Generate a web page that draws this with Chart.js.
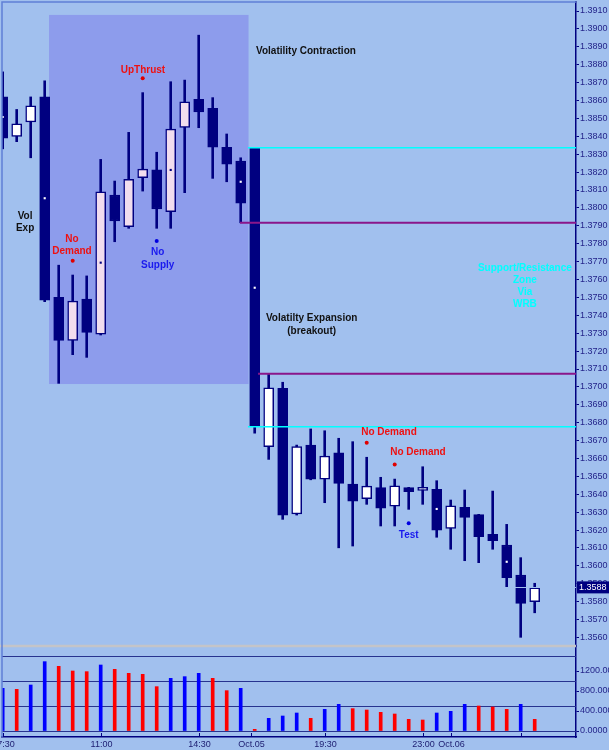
<!DOCTYPE html>
<html>
<head>
<meta charset="utf-8">
<script src="https://cdn.jsdelivr.net/npm/chart.js@4.4.0/dist/chart.umd.min.js"></script>
<style>
  html, body { margin: 0; padding: 0; background: #a1c0ee; }
  #wrap { width: 609px; height: 750px; position: relative; }
</style>
</head>
<body>
<div id="wrap"><canvas id="c"></canvas></div>
<script>
// 30 min bars (index 0 = 07:30)
var candleOpen  = [1.3862, 1.3840, 1.3848, 1.3862, 1.3750, 1.3726, 1.3749, 1.37295, 1.38072, 1.37895,
                   1.38169, 1.38212, 1.37979, 1.3845, 1.38607, 1.38556, 1.38339, 1.38262, 1.38333, 1.36666,
                   1.36992, 1.3629, 1.36675, 1.36484, 1.36632, 1.36457, 1.36375, 1.36437, 1.36333, 1.36437,
                   1.36422, 1.36428, 1.3621, 1.36327, 1.36286, 1.36176, 1.36117, 1.35949, 1.3580];
var candleHigh  = [1.3876, 1.3855, 1.3862, 1.3871, 1.3768, 1.37625, 1.3762, 1.38271, 1.3815, 1.38422,
                   1.38644, 1.38311, 1.38705, 1.38714, 1.38965, 1.38616, 1.38413, 1.3828, 1.38336, 1.3707,
                   1.37026, 1.36675, 1.36765, 1.36755, 1.36713, 1.36694, 1.36607, 1.36495, 1.36485, 1.36439,
                   1.36554, 1.36476, 1.36368, 1.36424, 1.36288, 1.36418, 1.36232, 1.36046, 1.35903];
var candleLow   = [1.3833, 1.3837, 1.3828, 1.37476, 1.3702, 1.3718, 1.37165, 1.3729, 1.37811, 1.37886,
                   1.38094, 1.37886, 1.37886, 1.38085, 1.38448, 1.38165, 1.38146, 1.37917, 1.36741, 1.36595,
                   1.3626, 1.36284, 1.36481, 1.36353, 1.36101, 1.36111, 1.36344, 1.36223, 1.36223, 1.36316,
                   1.36344, 1.3616, 1.36093, 1.36029, 1.36018, 1.36093, 1.35884, 1.35601, 1.35738];
var candleClose = [1.3839, 1.3847, 1.3857, 1.37485, 1.3726, 1.3748, 1.37305, 1.3809, 1.37927, 1.3816,
                   1.38217, 1.37994, 1.38441, 1.38593, 1.38536, 1.38339, 1.38245, 1.38026, 1.36781, 1.36995,
                   1.36284, 1.36666, 1.36485, 1.36614, 1.36461, 1.36362, 1.36446, 1.36323, 1.36448, 1.36414,
                   1.36437, 1.362, 1.36336, 1.36271, 1.36163, 1.36141, 1.35934, 1.35791, 1.35878];

var volume     = [853, 833, 920, 1387, 1293, 1200, 1187, 1320, 1233, 1153,
                  1133, 887, 1053, 1087, 1153, 1053, 807, 853, 33, 253,
                  300, 360, 253, 433, 533, 447, 420, 373, 340, 233,
                  220, 360, 393, 533, 500, 480, 433, 533, 233];
var volumeSide = ['b','r','b','b','r','r','r','b','r','r',
                  'r','r','b','b','b','r','r','b','r','b',
                  'b','b','r','b','b','r','r','r','r','r',
                  'r','b','b','b','r','r','r','b','r'];

// little marks inside some candles
var midDotIndex = [0, 3, 7, 12, 17, 18, 31, 36];
var midDotPrice = [1.38508, 1.38054, 1.37694, 1.38212, 1.38146, 1.37554, 1.36318, 1.36023];

// signal dots
var signalIndex = [5, 10, 11, 26, 28, 29];
var signalPrice = [1.37705, 1.38724, 1.37815, 1.36688, 1.36567, 1.36238];
var signalKind  = ['r', 'r', 'b', 'r', 'r', 'b'];

// horizontal zone lines: [start index, price]
var cyanLines    = [[17.52, 1.38336], [17.52, 1.36778]];
var magentaLines = [[16.95, 1.37917], [18.24, 1.37074]];

// volatility contraction box
var boxLeft = 3.31, boxRight = 17.56, boxTop = 1.39078, boxBottom = 1.37016;

var priceTicks = [];
for (var k = 13560; k <= 13910; k += 10) priceTicks.push(k / 10000);
var volTicks = [0, 400, 800, 1200];
var volTickLabels = ['0.0000', '400.000', '800.000', '1200.00'];
var volLevels = [0, 500, 1000, 1500];

var xTickPos    = [0, 7, 14, 17.7, 23, 30, 32, 37];
var xTickLabels = ['07:30', '11:00', '14:30', 'Oct.05', '19:30', '23:00', 'Oct.06', ''];

var lastPrice = 1.3588;

var notes = [
  ['Volatility Contraction', 21.66, 1.38877, 'k'],
  ['Vol', 1.6, 1.37955, 'k'], ['Exp', 1.6, 1.37888, 'k'],
  ['No', 4.95, 1.37826, 'r'], ['Demand', 4.95, 1.37759, 'r'],
  ['UpThrust', 10.02, 1.38770, 'r'],
  ['No', 11.07, 1.37750, 'b'], ['Supply', 11.07, 1.37679, 'b'],
  ['Volatilty Expansion', 22.07, 1.37386, 'k'], ['(breakout)', 22.07, 1.37312, 'k'],
  ['Support/Resistance', 37.3, 1.37662, 'c'], ['Zone', 37.3, 1.37595, 'c'],
  ['Via', 37.3, 1.37528, 'c'], ['WRB', 37.3, 1.37459, 'c'],
  ['No Demand', 27.59, 1.36746, 'r'], ['No Demand', 29.66, 1.36634, 'r'],
  ['Test', 29.0, 1.36172, 'b']
];

var NAVY = '#000080';
var BG = '#a1c0ee';
var noteColor = { k: '#111111', r: '#ee1111', b: '#1a1aee', c: '#00ffff' };
var xMin = -0.05, xMax = 40.95;

var idx = candleOpen.map(function (v, i) { return i; });

var bodyColors = idx.map(function (i) {
  if (candleClose[i] < candleOpen[i]) return NAVY;
  return (i > boxLeft && i < boxRight) ? '#f1ddee' : '#ffffff';
});

var datasets = [
  {
    type: 'bar', label: 'wick', yAxisID: 'price', order: 4, grouped: false,
    data: idx.map(function (i) { return { x: i, y: [candleLow[i], candleHigh[i]] }; }),
    backgroundColor: NAVY, barThickness: 2
  },
  {
    type: 'bar', label: 'body', yAxisID: 'price', order: 3, grouped: false,
    data: idx.map(function (i) { return { x: i, y: [candleOpen[i], candleClose[i]] }; }),
    backgroundColor: bodyColors, borderColor: NAVY, borderWidth: 1.5,
    borderSkipped: false, barThickness: 10, minBarLength: 3
  },
  {
    type: 'bar', label: 'volume', yAxisID: 'vol', order: 3, grouped: false,
    data: idx.map(function (i) { return { x: i, y: volume[i] }; }),
    backgroundColor: volumeSide.map(function (s) { return s === 'b' ? '#0000ff' : '#ff0000'; }),
    barThickness: 3
  },
  {
    type: 'line', label: 'mid', yAxisID: 'price', order: 1, showLine: false,
    data: midDotIndex.map(function (i, n) { return { x: i, y: midDotPrice[n] }; }),
    pointStyle: 'rect', pointRadius: 1.5, pointBorderWidth: 0,
    pointBackgroundColor: midDotIndex.map(function (i) { return bodyColors[i] === NAVY ? '#ffffff' : NAVY; })
  },
  {
    type: 'line', label: 'signal', yAxisID: 'price', order: 1, showLine: false,
    data: signalIndex.map(function (i, n) { return { x: i, y: signalPrice[n] }; }),
    pointRadius: 2, pointBorderWidth: 0,
    pointBackgroundColor: signalKind.map(function (s) { return s === 'r' ? '#e00000' : '#0000e0'; })
  }
];

cyanLines.forEach(function (l) {
  datasets.push({ type: 'line', yAxisID: 'price', order: 2, data: [{ x: l[0], y: l[1] }, { x: xMax, y: l[1] }],
    borderColor: '#00ffff', borderWidth: 1.5, pointRadius: 0 });
});
magentaLines.forEach(function (l) {
  datasets.push({ type: 'line', yAxisID: 'price', order: 2, data: [{ x: l[0], y: l[1] }, { x: xMax, y: l[1] }],
    borderColor: '#8a168a', borderWidth: 2, pointRadius: 0 });
});

function noPad(s) {
  s.paddingTop = 0; s.paddingBottom = 0; s.paddingLeft = 0; s.paddingRight = 0;
}

var drawing = {
  id: 'drawing',
  beforeDatasetsDraw: function (chart) {
    var ctx = chart.ctx, xs = chart.scales.x, ps = chart.scales.price, vs = chart.scales.vol;
    var a = chart.chartArea;
    ctx.save();
    ctx.fillStyle = '#8d9cec';
    var x0 = xs.getPixelForValue(boxLeft), x1 = xs.getPixelForValue(boxRight);
    var y0 = ps.getPixelForValue(boxTop), y1 = ps.getPixelForValue(boxBottom);
    ctx.fillRect(x0, y0, x1 - x0, y1 - y0);
    // volume panel levels
    ctx.strokeStyle = '#27338f';
    ctx.lineWidth = 1.2;
    volLevels.forEach(function (v) {
      var y = Math.round(vs.getPixelForValue(v)) + 0.5;
      ctx.beginPath(); ctx.moveTo(a.left, y); ctx.lineTo(a.right, y); ctx.stroke();
    });
    ctx.restore();
  },
  afterDatasetsDraw: function (chart) {
    var ctx = chart.ctx, xs = chart.scales.x, ps = chart.scales.price;
    var a = chart.chartArea;
    ctx.save();
    // bid line, same tone as the background
    var yb = Math.round(ps.getPixelForValue(lastPrice)) + 0.5;
    ctx.strokeStyle = BG; ctx.lineWidth = 1;
    ctx.beginPath(); ctx.moveTo(a.left, yb); ctx.lineTo(a.right, yb); ctx.stroke();
    // separator between panels
    ctx.strokeStyle = '#c4c4c8'; ctx.lineWidth = 2.5;
    ctx.beginPath(); ctx.moveTo(0, ps.bottom); ctx.lineTo(a.right, ps.bottom); ctx.stroke();
    // frame left/top
    ctx.strokeStyle = '#5f7fd6'; ctx.lineWidth = 1.5;
    ctx.beginPath(); ctx.moveTo(a.left, a.bottom); ctx.lineTo(a.left, a.top); ctx.lineTo(a.right, a.top); ctx.stroke();
    // notes
    ctx.font = 'bold 10px "Liberation Sans", Arial, sans-serif';
    ctx.textAlign = 'center'; ctx.textBaseline = 'middle';
    notes.forEach(function (n) {
      ctx.fillStyle = noteColor[n[3]];
      ctx.fillText(n[0], xs.getPixelForValue(n[1]), ps.getPixelForValue(n[2]));
    });
    // x ticks and labels
    ctx.strokeStyle = NAVY; ctx.lineWidth = 1;
    ctx.fillStyle = '#1c1c70';
    ctx.font = '9px "Liberation Sans", Arial, sans-serif';
    xTickPos.forEach(function (v, n) {
      var x = Math.round(xs.getPixelForValue(v)) + 0.5;
      ctx.beginPath(); ctx.moveTo(x, a.bottom - 4); ctx.lineTo(x, a.bottom); ctx.stroke();
      if (xTickLabels[n]) ctx.fillText(xTickLabels[n], x, a.bottom + 8);
    });
    // last price tag
    var yp = ps.getPixelForValue(lastPrice);
    ctx.fillStyle = NAVY;
    ctx.fillRect(a.right + 1, yp - 6, 40, 12);
    ctx.fillStyle = '#ffffff';
    ctx.textAlign = 'left';
    ctx.fillText(lastPrice.toFixed(4), a.right + 3, yp + 0.5);
    ctx.restore();
  }
};

new Chart(document.getElementById('c'), {
  type: 'bar',
  data: { datasets: datasets },
  options: {
    responsive: true,
    maintainAspectRatio: false,
    animation: false,
    events: [],
    layout: { autoPadding: false, padding: { left: 2, top: 2, right: 0, bottom: 0 } },
    plugins: { legend: { display: false }, tooltip: { enabled: false } },
    scales: {
      x: {
        type: 'linear', min: xMin, max: xMax, offset: false,
        grid: { display: false }, ticks: { display: false },
        border: { display: true, color: NAVY, width: 1.5 },
        afterFit: function (s) { s.height = 13; noPad(s); }
      },
      price: {
        type: 'linear', position: 'right', stack: 'right', stackWeight: 644,
        min: 1.355525, max: 1.391503,
        afterBuildTicks: function (s) { s.ticks = priceTicks.map(function (v) { return { value: v }; }); },
        ticks: {
          autoSkip: false, padding: 1, color: '#24248a',
          font: { family: '"Liberation Sans", Arial, sans-serif', size: 9 },
          callback: function (v) { return Number(v).toFixed(4); }
        },
        grid: { drawOnChartArea: false, tickLength: 3, color: NAVY },
        border: { color: NAVY, width: 1.5 },
        afterFit: function (s) { s.width = 33; noPad(s); }
      },
      vol: {
        type: 'linear', position: 'right', stack: 'right', stackWeight: 91,
        min: -120, max: 1700,
        afterBuildTicks: function (s) { s.ticks = volTicks.map(function (v) { return { value: v }; }); },
        ticks: {
          autoSkip: false, padding: 1, color: '#24248a',
          font: { family: '"Liberation Sans", Arial, sans-serif', size: 9 },
          callback: function (v) { return volTickLabels[volTicks.indexOf(v)]; }
        },
        grid: { drawOnChartArea: false, tickLength: 3, color: NAVY },
        border: { color: NAVY, width: 1.5 },
        afterFit: function (s) { s.width = 33; noPad(s); }
      }
    }
  },
  plugins: [drawing]
});
</script>
</body>
</html>
